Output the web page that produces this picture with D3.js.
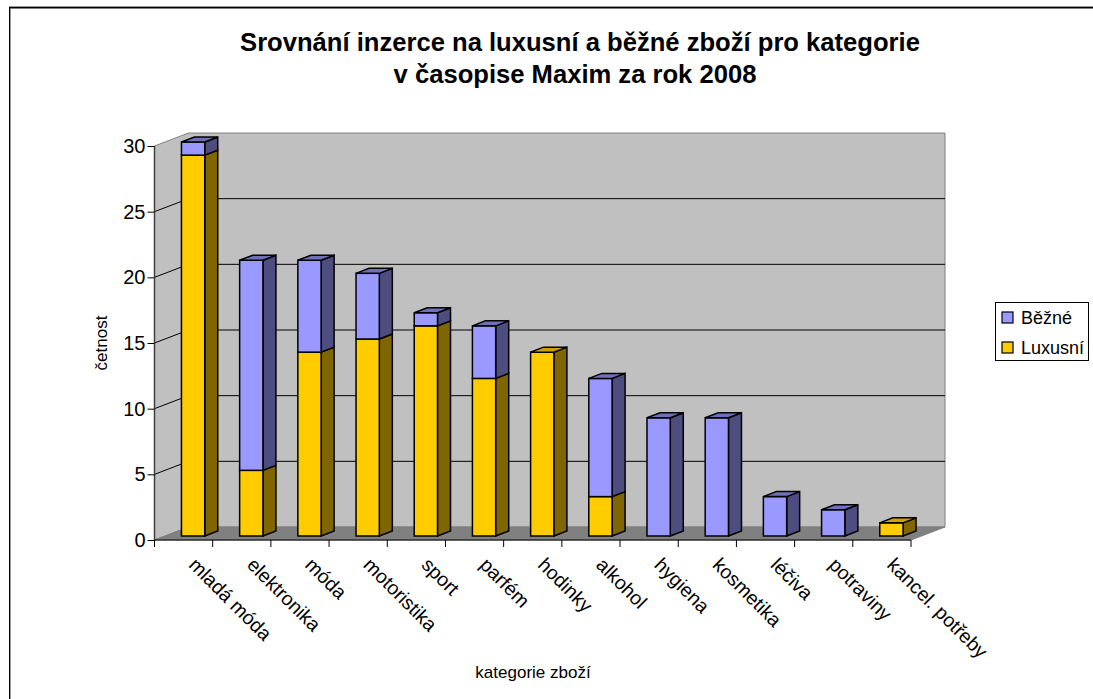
<!DOCTYPE html>
<html>
<head>
<meta charset="utf-8">
<script src="https://cdnjs.cloudflare.com/ajax/libs/d3/7.8.5/d3.min.js"></script>
<style>
html,body{margin:0;padding:0;background:#fff;overflow:hidden}
text{font-family:"Liberation Sans",Arial,sans-serif;fill:#000}
</style>
</head>
<body>
<script>
// Advertising counts per product category, stacked as 3D columns
const categories = ["mladá móda","elektronika","móda","motoristika","sport","parfém","hodinky","alkohol","hygiena","kosmetika","léčiva","potraviny","kancel. potřeby"];
const luxusni = [29,5,14,15,16,12,14,3,0,0,0,0,1];
const bezne   = [1,16,7,5,1,4,0,9,9,9,3,2,0];
const seriesNames = ["Luxusní","Běžné"];
const yTicks = [0,5,10,15,20,25,30];
const titleLines = ["Srovnání inzerce na luxusní a běžné zboží pro kategorie","v časopise Maxim za rok 2008"];

const W = 1093, H = 699;
const svg = d3.select("body").append("svg").attr("width",W).attr("height",H).style("display","block");

// Projection of the chart box: front plane plus an oblique depth offset
const plot = {x0:154.5, x1:911, y0:540, y1:146, dx:34, dy:-13};
const barDepth = {dx:13, dy:-5};
const barShift = {dx:9.5, dy:-4};

const x = d3.scaleBand().domain(categories).range([plot.x0,plot.x1]).paddingInner(0.6).paddingOuter(0.3);
const y = d3.scaleLinear().domain([0,30]).range([plot.y0,plot.y1]);

const colors = {
  "Luxusní":{front:"#FFCC00",top:"#CCA300",side:"#806600"},
  "Běžné":{front:"#9999FF",top:"#6F6FBA",side:"#4D4D80"}
};

const poly = pts => pts.map(p=>p.join(",")).join(" ");

// Walls and floor
const g = svg.append("g");
g.append("polygon").attr("fill","#C0C0C0").attr("stroke","#808080")
  .attr("points",poly([[plot.x0,plot.y0],[plot.x0,plot.y1],[plot.x0+plot.dx,plot.y1+plot.dy],[plot.x1+plot.dx,plot.y1+plot.dy],[plot.x1+plot.dx,plot.y0+plot.dy],[plot.x0+plot.dx,plot.y0+plot.dy]]));
g.append("polygon").attr("fill","#808080").attr("stroke","#808080")
  .attr("points",poly([[plot.x0,plot.y0],[plot.x0+plot.dx,plot.y0+plot.dy],[plot.x1+plot.dx,plot.y0+plot.dy],[plot.x1,plot.y0]]));

// Gridlines run along the side wall and across the back wall
g.selectAll("polyline.grid").data(yTicks.filter(t=>t>0&&t<30)).join("polyline")
  .attr("class","grid").attr("fill","none").attr("stroke","#000").attr("stroke-width",1)
  .attr("points",t=>poly([[plot.x0,y(t)],[plot.x0+plot.dx,y(t)+plot.dy],[plot.x1+plot.dx,y(t)+plot.dy]]));

// Stacked columns
const stack = d3.stack().keys(seriesNames).value((d,k)=>d[k]);
const rows = categories.map((c,i)=>({cat:c,"Luxusní":luxusni[i],"Běžné":bezne[i]}));
const layers = stack(rows);
const strokeW = 1.5;

categories.forEach((c,i)=>{
  const bx = x(c)+barShift.dx, bw = x.bandwidth();
  const colG = g.append("g").attr("class","column");
  const segs = layers.map(l=>({key:l.key,v0:l[i][0],v1:l[i][1]})).filter(s=>s.v1>s.v0);
  segs.forEach((s,j)=>{
    const yb = y(s.v0)+barShift.dy, yt = y(s.v1)+barShift.dy, col = colors[s.key];
    colG.append("polygon").attr("fill",col.side).attr("stroke","#000").attr("stroke-width",strokeW)
      .attr("points",poly([[bx+bw,yb],[bx+bw+barDepth.dx,yb+barDepth.dy],[bx+bw+barDepth.dx,yt+barDepth.dy],[bx+bw,yt]]));
    colG.append("rect").attr("x",bx).attr("y",yt).attr("width",bw).attr("height",yb-yt)
      .attr("fill",col.front).attr("stroke","#000").attr("stroke-width",strokeW);
    if(j===segs.length-1){
      colG.append("polygon").attr("fill",col.top).attr("stroke","#000").attr("stroke-width",strokeW)
        .attr("points",poly([[bx,yt],[bx+barDepth.dx,yt+barDepth.dy],[bx+bw+barDepth.dx,yt+barDepth.dy],[bx+bw,yt]]));
    }
  });
});

// Value axis
const yAxis = d3.axisLeft(y).tickValues(yTicks).tickSize(7).tickPadding(2).tickFormat(d3.format("d"));
const ya = svg.append("g").attr("transform",`translate(${plot.x0},0)`).call(yAxis);
ya.select(".domain").attr("stroke","#404040").attr("stroke-width",1.5).attr("d",`M0,${plot.y0}V${plot.y1}`);
ya.selectAll("line").attr("stroke","#000");
ya.selectAll("text").attr("font-size",20).attr("font-family",'"Liberation Sans",Arial,sans-serif');

// Category axis: ticks sit on the step boundaries
const step = x.step();
const xTickPos = d3.range(categories.length+1).map(i=>plot.x0+(plot.x1-plot.x0)*i/categories.length);
svg.append("line").attr("x1",plot.x0).attr("x2",plot.x1).attr("y1",plot.y0).attr("y2",plot.y0).attr("stroke","#000").attr("stroke-width",1.2);
svg.selectAll("line.xt").data(xTickPos).join("line").attr("class","xt")
  .attr("x1",d=>d).attr("x2",d=>d).attr("y1",plot.y0).attr("y2",plot.y0+7).attr("stroke","#000");
svg.selectAll("text.cat").data(categories).join("text").attr("class","cat")
  .attr("font-size",19.5).attr("text-anchor","start")
  .attr("transform",(d,i)=>`translate(${xTickPos[i]+step-25},566) rotate(45)`)
  .text(d=>d);

// Titles
svg.selectAll("text.title").data(titleLines).join("text").attr("class","title")
  .attr("x",(d,i)=>i?575:580).attr("y",(d,i)=>51+i*32).attr("text-anchor","middle")
  .attr("font-size",25.6).attr("font-weight","bold").text(d=>d);
svg.append("text").attr("x",533).attr("y",678).attr("text-anchor","middle").attr("font-size",17).text("kategorie zboží");
svg.append("text").attr("transform","translate(107,343) rotate(-90)").attr("text-anchor","middle").attr("font-size",17).text("četnost");

// Legend lists the top series first
const legend = svg.append("g");
legend.append("rect").attr("x",995.5).attr("y",302.5).attr("width",93).attr("height",58).attr("fill","#fff").attr("stroke","#000");
seriesNames.slice().reverse().forEach((n,i)=>{
  const ly = 317.5+i*30;
  legend.append("rect").attr("x",1002).attr("y",ly-5.5).attr("width",11).attr("height",11).attr("fill",colors[n].front).attr("stroke","#000").attr("stroke-width",1.2);
  legend.append("text").attr("x",1021).attr("y",ly+6.5).attr("font-size",18).text(n);
});

// Outer chart frame, open at the right and bottom edges
svg.append("path").attr("fill","none").attr("stroke","#000").attr("stroke-width",1.5).attr("d",`M9.75,${H}V7.75H${W}`);
svg.append("path").attr("fill","none").attr("stroke","#999").attr("stroke-width",1).attr("d",`M10.5,${H}V8.5`);
svg.append("path").attr("fill","none").attr("stroke","#999").attr("stroke-width",1).attr("d",`M9,6.5H${W}`);
</script>
</body>
</html>
